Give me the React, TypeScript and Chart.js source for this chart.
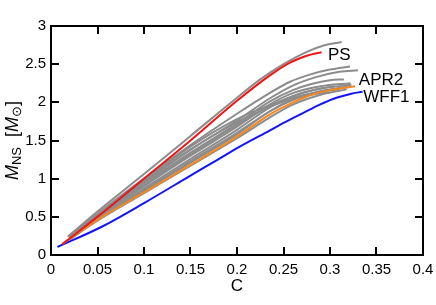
import { useEffect, useRef } from "react";
import { Chart, registerables } from "chart.js";
Chart.register(...registerables);

const xTicks = [0, 0.05, 0.1, 0.15, 0.2, 0.25, 0.3, 0.35, 0.4];
const yTicks = [0, 0.5, 1, 1.5, 2, 2.5, 3];

const psC = [0.012, 0.05, 0.1, 0.15, 0.2, 0.235, 0.257, 0.275, 0.284, 0.291];
const psM = [0.14, 0.5, 1.0, 1.5, 2.02, 2.35, 2.52, 2.61, 2.64, 2.655];

const apr2C = [0.013, 0.05, 0.1, 0.15, 0.2, 0.235, 0.257, 0.278, 0.3, 0.327];
const apr2M = [0.15, 0.46, 0.82, 1.18, 1.55, 1.84, 1.98, 2.09, 2.16, 2.21];

const wff1C = [0.007, 0.0545, 0.1, 0.15, 0.178, 0.203, 0.235, 0.25, 0.271, 0.289, 0.307, 0.322, 0.335];
const wff1M = [0.105, 0.37, 0.68, 1.04, 1.24, 1.42, 1.63, 1.73, 1.86, 1.97, 2.06, 2.11, 2.14];

const gray1C = [0.018, 0.05, 0.1, 0.15, 0.2, 0.225, 0.25, 0.275, 0.295, 0.3125];
const gray1M = [0.24, 0.57, 1.06, 1.56, 2.06, 2.3, 2.5, 2.66, 2.75, 2.79];
const gray2C = [0.02, 0.05, 0.1, 0.15, 0.2, 0.235, 0.257, 0.28, 0.3, 0.3215];
const gray2M = [0.24, 0.54, 1.0, 1.44, 1.85, 2.12, 2.27, 2.37, 2.43, 2.47];
const gray3C = [0.02, 0.05, 0.1, 0.15, 0.2, 0.235, 0.26, 0.285, 0.31, 0.33];
const gray3M = [0.23, 0.52, 0.96, 1.38, 1.76, 2.05, 2.22, 2.33, 2.4, 2.42];
const gray4C = [0.02, 0.05, 0.1, 0.15, 0.2, 0.235, 0.26, 0.28, 0.3, 0.315];
const gray4M = [0.23, 0.51, 0.93, 1.34, 1.72, 2.01, 2.16, 2.24, 2.29, 2.3];
const gray5C = [0.02, 0.05, 0.1, 0.15, 0.2, 0.235, 0.26, 0.29, 0.322];
const gray5M = [0.22, 0.49, 0.9, 1.3, 1.68, 1.97, 2.12, 2.21, 2.25];
const gray6C = [0.02, 0.05, 0.1, 0.15, 0.2, 0.235, 0.26, 0.29, 0.323];
const gray6M = [0.21, 0.47, 0.87, 1.26, 1.64, 1.93, 2.08, 2.18, 2.23];
const gray7C = [0.02, 0.05, 0.1, 0.15, 0.2, 0.235, 0.26, 0.29, 0.318];
const gray7M = [0.21, 0.46, 0.85, 1.23, 1.6, 1.88, 2.04, 2.15, 2.2];
const gray8C = [0.02, 0.05, 0.1, 0.15, 0.2, 0.235, 0.26, 0.29, 0.32];
const gray8M = [0.2, 0.46, 0.84, 1.21, 1.58, 1.88, 2.03, 2.14, 2.2];
const gray9C = [0.02, 0.05, 0.1, 0.15, 0.2, 0.235, 0.26, 0.29, 0.31];
const gray9M = [0.23, 0.53, 0.97, 1.42, 1.78, 1.96, 2.06, 2.14, 2.17];
const gray10C = [0.02, 0.05, 0.1, 0.15, 0.2, 0.235, 0.26, 0.28, 0.3];
const gray10M = [0.22, 0.52, 0.95, 1.38, 1.74, 1.94, 2.05, 2.1, 2.13];
const gray11C = [0.015, 0.05, 0.1, 0.15, 0.2, 0.235, 0.26, 0.29, 0.318];
const gray11M = [0.17, 0.45, 0.81, 1.17, 1.53, 1.8, 1.97, 2.1, 2.17];
const gray12C = [0.02, 0.05, 0.1, 0.15, 0.2, 0.235, 0.26, 0.285, 0.305];
const gray12M = [0.22, 0.5, 0.91, 1.32, 1.7, 1.95, 2.08, 2.17, 2.21];

const labelNames = ["PS", "APR2", "WFF1"];
const labelC = [0.2978, 0.331, 0.3358];
const labelM = [2.615, 2.287, 2.06];

const grayCurves = [
  [gray1C, gray1M], [gray2C, gray2M], [gray3C, gray3M], [gray4C, gray4M],
  [gray5C, gray5M], [gray6C, gray6M], [gray7C, gray7M], [gray8C, gray8M],
  [gray9C, gray9M], [gray10C, gray10M], [gray11C, gray11M], [gray12C, gray12M],
];

const FONT = "'Liberation Sans', Arial, Helvetica, sans-serif";

const toXY = (c: number[], m: number[]) => c.map((v, i) => ({ x: v, y: m[i] }));

const fmt = (v: number) => String(Number(Number(v).toFixed(3)));

const textPlugin = {
  id: "texts",
  afterDraw(chart: any) {
    const ctx: CanvasRenderingContext2D = chart.ctx;
    const a = chart.chartArea;
    const x = chart.scales.x;
    const y = chart.scales.y;
    ctx.save();
    ctx.fillStyle = "#000000";
    ctx.font = `17px ${FONT}`;
    ctx.textAlign = "left";
    ctx.textBaseline = "middle";
    labelNames.forEach((n, i) => {
      ctx.fillText(n, x.getPixelForValue(labelC[i]), y.getPixelForValue(labelM[i]));
    });
    ctx.textAlign = "center";
    ctx.textBaseline = "alphabetic";
    ctx.fillText("C", (a.left + a.right) / 2, 291);

    const big = `italic 18px ${FONT}`;
    const small = `13px ${FONT}`;
    const norm = `18px ${FONT}`;
    const parts: [string, string, number][] = [
      ["M", big, 0],
      ["NS", small, 3],
      ["  [", norm, 0],
      ["M", big, 0],
      ["\u2299", small, 3],
      ["]", norm, 0],
    ];
    let total = 0;
    for (const [t, f] of parts) {
      ctx.font = f;
      total += ctx.measureText(t).width;
    }
    ctx.translate(18, (a.top + a.bottom) / 2);
    ctx.rotate(-Math.PI / 2);
    ctx.textAlign = "left";
    let cx = -total / 2;
    for (const [t, f, dy] of parts) {
      ctx.font = f;
      ctx.fillText(t, cx, dy);
      cx += ctx.measureText(t).width;
    }
    ctx.restore();
  },
};

const framePlugin = {
  id: "frameTicks",
  afterDraw(chart: any) {
    const ctx: CanvasRenderingContext2D = chart.ctx;
    const a = chart.chartArea;
    const x = chart.scales.x;
    const y = chart.scales.y;
    const left = Math.round(a.left);
    const right = Math.round(a.right);
    const top = Math.round(a.top);
    const bottom = Math.round(a.bottom);
    ctx.save();
    ctx.setTransform(1, 0, 0, 1, 0, 0);
    ctx.globalAlpha = 1;
    ctx.globalCompositeOperation = "source-over";
    ctx.strokeStyle = "#000000";
    ctx.fillStyle = "#000000";
    ctx.lineWidth = 2;
    ctx.lineCap = "butt";
    ctx.setLineDash([]);
    ctx.strokeRect(left, top, right - left, bottom - top);
    const L = 8;
    ctx.beginPath();
    for (let i = 0; i < xTicks.length; i++) {
      const px = Math.round(x.getPixelForValue(xTicks[i]));
      ctx.moveTo(px, bottom);
      ctx.lineTo(px, bottom - L);
      ctx.moveTo(px, top);
      ctx.lineTo(px, top + L);
    }
    for (let i = 0; i < yTicks.length; i++) {
      const py = Math.round(y.getPixelForValue(yTicks[i]));
      ctx.moveTo(left, py);
      ctx.lineTo(left + L, py);
      ctx.moveTo(right, py);
      ctx.lineTo(right - L, py);
    }
    ctx.stroke();
    ctx.restore();
  },
};

export default function App() {
  const ref = useRef<HTMLCanvasElement>(null);
  useEffect(() => {
    if (!ref.current) return;
    const base = {
      pointRadius: 0,
      borderWidth: 2,
      fill: false,
      cubicInterpolationMode: "monotone" as const,
    };
    const datasets: any[] = [
      { ...base, label: "PS", data: toXY(psC, psM), borderColor: "rgb(240,20,20)" },
      { ...base, label: "APR2", data: toXY(apr2C, apr2M), borderColor: "rgb(245,135,30)" },
      { ...base, label: "WFF1", data: toXY(wff1C, wff1M), borderColor: "rgb(20,20,250)" },
      ...grayCurves.map(([c, m], i) => ({
        ...base,
        label: "g" + i,
        data: toXY(c, m),
        borderColor: "rgb(140,140,140)",
      })),
    ];
    const chart = new Chart(ref.current, {
      type: "line",
      data: { datasets },
      plugins: [textPlugin, framePlugin],
      options: {
        animation: false,
        responsive: false,
        layout: { padding: { top: 26, right: 13, left: 0, bottom: 0 } },
        plugins: { legend: { display: false }, tooltip: { enabled: false } },
        scales: {
          x: {
            type: "linear",
            min: 0,
            max: 0.4,
            grid: { display: false, drawTicks: false },
            border: { display: false },
            afterFit: (s: any) => { s.height = 50; s.paddingLeft = 0; s.paddingRight = 0; },
            afterBuildTicks: (s: any) => { s.ticks = xTicks.map((v) => ({ value: v })); },
            ticks: {
              padding: 6,
              color: "#000",
              font: { family: FONT, size: 15 },
              maxRotation: 0,
              autoSkip: false,
              callback: (v: any) => fmt(v),
            },
          },
          y: {
            type: "linear",
            min: 0,
            max: 3,
            grid: { display: false, drawTicks: false },
            border: { display: false },
            afterFit: (s: any) => { s.width = 51; },
            afterBuildTicks: (s: any) => { s.ticks = yTicks.map((v) => ({ value: v })); },
            ticks: {
              padding: 5,
              color: "#000",
              font: { family: FONT, size: 15 },
              autoSkip: false,
              callback: (v: any) => fmt(v),
            },
          },
        },
      },
    });
    return () => chart.destroy();
  }, []);
  return (
    <canvas
      ref={ref}
      width={436}
      height={305}
      style={{ position: "fixed", left: 0, top: 0 }}
    />
  );
}
